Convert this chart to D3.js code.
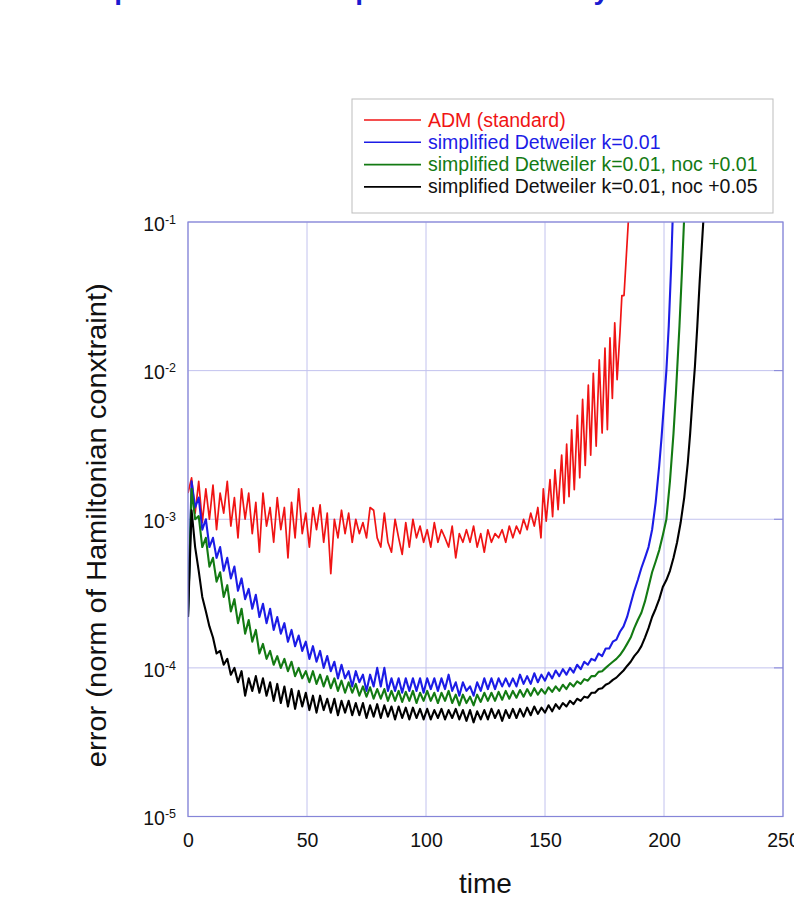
<!DOCTYPE html>
<html>
<head>
<meta charset="utf-8">
<script src="https://cdn.jsdelivr.net/npm/d3@7"></script>
<style>
  body { margin: 0; background: #fff; overflow: hidden; }
  text { font-family: "Liberation Sans", Arial, Helvetica, sans-serif; }
</style>
</head>
<body>
<div id="chart"></div>
<script>
// series names (legend order)
var seriesNames = [
    "ADM (standard)",
    "simplified Detweiler k=0.01",
    "simplified Detweiler k=0.01, noc +0.01",
    "simplified Detweiler k=0.01, noc +0.05"
];
var seriesColors = ["#f01414", "#1c1ce6", "#137a13", "#000000"];

// axis ticks
var xTicks = [0, 50, 100, 150, 200, 250];
var yTicks = [1e-5, 1e-4, 1e-3, 1e-2, 1e-1];

// time samples of the noisy part (shared by all four runs)
var timeNoisy = [
    0, 1.5, 3, 4.5, 6, 7.5, 9, 10.5, 12, 13.5,
    15, 16.5, 18, 19.5, 21, 22.5, 24, 25.5, 27, 28.5,
    30, 31.5, 33, 34.5, 36, 37.5, 39, 40.5, 42, 43.5,
    45, 46.5, 48, 49.5, 51, 52.5, 54, 55.5, 57, 58.5,
    60, 61.5, 63, 64.5, 66, 67.5, 69, 70.5, 72, 73.5,
    75, 76.5, 78, 79.5, 81, 82.5, 84, 85.5, 87, 88.5,
    90, 91.5, 93, 94.5, 96, 97.5, 99, 100.5, 102, 103.5,
    105, 106.5, 108, 109.5, 111, 112.5, 114, 115.5, 117, 118.5,
    120, 121.5, 123, 124.5, 126, 127.5, 129, 130.5, 132, 133.5,
    135, 136.5, 138, 139.5, 141, 142.5, 144, 145.5, 147
];

// ADM (standard)
var admNoisy = [
    1.5e-3, 1.9e-3, 1.1e-3, 1.8e-3, 9.5e-4, 1.6e-3, 1.0e-3, 1.7e-3, 8.5e-4, 1.5e-3,
    1.1e-3, 1.8e-3, 9.0e-4, 1.4e-3, 7.5e-4, 1.6e-3, 1.0e-3, 1.5e-3, 8.0e-4, 1.3e-3,
    6.0e-4, 1.5e-3, 9.0e-4, 1.2e-3, 7.0e-4, 1.4e-3, 8.5e-4, 1.2e-3, 5.5e-4, 1.3e-3,
    7.5e-4, 1.6e-3, 8.0e-4, 1.1e-3, 6.5e-4, 1.2e-3, 8.5e-4, 1.25e-3, 7.0e-4, 1.1e-3,
    4.3e-4, 1.0e-3, 7.5e-4, 1.15e-3, 8.0e-4, 1.1e-3, 7.0e-4, 1.0e-3, 8.0e-4, 9.5e-4,
    7.5e-4, 1.2e-3, 1.15e-3, 7.5e-4, 6.5e-4, 1.1e-3, 7.0e-4, 6.0e-4, 1.0e-3, 7.5e-4,
    5.8e-4, 9.5e-4, 6.5e-4, 1.0e-3, 7.5e-4, 9.0e-4, 7.0e-4, 8.5e-4, 6.5e-4, 9.5e-4,
    7.0e-4, 8.5e-4, 7.5e-4, 6.5e-4, 9.0e-4, 5.5e-4, 8.0e-4, 7.0e-4, 8.5e-4, 7.0e-4,
    9.0e-4, 6.5e-4, 8.0e-4, 6.0e-4, 8.5e-4, 7.0e-4, 8.0e-4, 7.5e-4, 8.5e-4, 7.0e-4,
    9.0e-4, 7.5e-4, 9.0e-4, 8.0e-4, 1.0e-3, 8.5e-4, 1.1e-3, 9.0e-4, 1.2e-3
];
var admTail = [
    [148.3, 7.5e-4], [149.3, 1.6e-3], [150.5, 9.7e-4], [152.1, 1.85e-3], [153.2, 1.04e-3],
    [154.2, 2.15e-3], [155.5, 1.16e-3], [157.0, 2.7e-3], [158.0, 1.28e-3], [159.1, 3.2e-3],
    [160.1, 1.42e-3], [161.2, 4.0e-3], [162.3, 1.58e-3], [163.6, 5.0e-3], [164.6, 1.9e-3],
    [165.8, 6.4e-3], [166.9, 2.3e-3], [168.2, 8.0e-3], [169.2, 2.7e-3], [170.3, 9.6e-3],
    [171.5, 3.1e-3], [172.8, 1.18e-2], [174.0, 3.8e-3], [175.2, 1.42e-2], [176.2, 4.0e-3],
    [177.3, 1.66e-2], [178.3, 6.5e-3], [179.3, 2.1e-2], [180.3, 8.7e-3], [181.5, 1.8e-2],
    [182.3, 3.2e-2], [183.2, 3.2e-2], [185.0, 1.0e-1], [185.4, 1.3e-1]
];

// simplified Detweiler k=0.01
var detNoisy = [
    2.2e-4, 1.8e-3, 1.2e-3, 1.4e-3, 8.5e-4, 1.0e-3, 6.5e-4, 7.5e-4, 5.5e-4, 6.5e-4,
    4.5e-4, 5.5e-4, 4.0e-4, 4.8e-4, 3.3e-4, 4.0e-4, 2.9e-4, 3.4e-4, 2.5e-4, 3.1e-4,
    2.2e-4, 2.7e-4, 2.0e-4, 2.5e-4, 1.8e-4, 2.2e-4, 1.7e-4, 2.0e-4, 1.5e-4, 1.8e-4,
    1.4e-4, 1.65e-4, 1.3e-4, 1.5e-4, 1.15e-4, 1.4e-4, 1.1e-4, 1.3e-4, 1.0e-4, 1.2e-4,
    9.5e-5, 1.1e-4, 8.5e-5, 1.05e-4, 8.5e-5, 9.5e-5, 7.5e-5, 9.5e-5, 8.0e-5, 9.0e-5,
    7.0e-5, 9.0e-5, 7.5e-5, 1.0e-4, 7.5e-5, 1.0e-4, 7.0e-5, 8.5e-5, 7.0e-5, 8.5e-5,
    6.8e-5, 8.5e-5, 7.0e-5, 8.5e-5, 7.0e-5, 8.5e-5, 6.8e-5, 8.5e-5, 7.2e-5, 8.5e-5,
    7.0e-5, 8.5e-5, 7.2e-5, 9.0e-5, 7.0e-5, 8.0e-5, 6.5e-5, 8.0e-5, 7.0e-5, 7.5e-5,
    6.5e-5, 8.0e-5, 7.0e-5, 8.5e-5, 7.2e-5, 8.5e-5, 7.2e-5, 8.5e-5, 7.5e-5, 8.5e-5,
    7.5e-5, 8.5e-5, 7.5e-5, 9.0e-5, 7.8e-5, 8.8e-5, 7.8e-5, 9.2e-5, 8.0e-5
];
var detTail = [
    [148.5, 9.0e-5], [150, 8.2e-5], [151.5, 9.3e-5], [153, 8.5e-5], [154.5, 9.6e-5],
    [156, 8.8e-5], [157.5, 9.8e-5], [159, 9.0e-5], [160.5, 1.0e-4], [162, 9.3e-5],
    [163.5, 1.05e-4], [165, 9.8e-5], [166.5, 1.1e-4], [168, 1.05e-4], [169.5, 1.15e-4],
    [171, 1.12e-4], [172.5, 1.25e-4], [174, 1.2e-4], [175.5, 1.35e-4], [177, 1.35e-4],
    [178.5, 1.5e-4], [180, 1.55e-4], [181.5, 1.75e-4], [183, 1.9e-4], [184.5, 2.2e-4],
    [186, 2.7e-4], [187.5, 3.3e-4], [189, 3.9e-4], [190.5, 4.7e-4], [192, 5.5e-4],
    [193.5, 6.5e-4], [195, 8.5e-4], [196.5, 1.3e-3], [198, 2.3e-3], [199, 3.6e-3],
    [200, 6.0e-3], [201, 1.0e-2], [202, 2.0e-2], [203, 5.0e-2], [203.6, 1.0e-1], [204, 1.3e-1]
];

// simplified Detweiler k=0.01, noc +0.01
var noc1Noisy = [
    2.2e-4, 1.6e-3, 1.0e-3, 1.05e-3, 6.5e-4, 7.5e-4, 4.8e-4, 5.5e-4, 3.8e-4, 4.4e-4,
    3.0e-4, 3.6e-4, 2.4e-4, 2.9e-4, 2.0e-4, 2.5e-4, 1.7e-4, 2.1e-4, 1.5e-4, 1.8e-4,
    1.25e-4, 1.45e-4, 1.15e-4, 1.3e-4, 1.05e-4, 1.2e-4, 1.0e-4, 1.15e-4, 9.5e-5, 1.1e-4,
    8.8e-5, 1.0e-4, 8.5e-5, 9.5e-5, 8.0e-5, 9.5e-5, 7.8e-5, 9.0e-5, 7.5e-5, 8.8e-5,
    7.3e-5, 8.5e-5, 7.0e-5, 8.2e-5, 6.8e-5, 8.0e-5, 6.8e-5, 7.8e-5, 6.5e-5, 7.5e-5,
    6.4e-5, 7.4e-5, 6.2e-5, 7.2e-5, 6.2e-5, 7.2e-5, 6.0e-5, 7.0e-5, 6.0e-5, 7.0e-5,
    5.9e-5, 6.9e-5, 6.0e-5, 7.0e-5, 5.8e-5, 6.8e-5, 6.0e-5, 7.0e-5, 6.0e-5, 6.8e-5,
    5.8e-5, 6.8e-5, 6.0e-5, 7.0e-5, 5.8e-5, 6.6e-5, 5.6e-5, 6.6e-5, 5.8e-5, 6.4e-5,
    5.6e-5, 6.6e-5, 5.9e-5, 6.8e-5, 6.0e-5, 6.8e-5, 6.0e-5, 6.9e-5, 6.1e-5, 7.0e-5,
    6.2e-5, 7.0e-5, 6.3e-5, 7.1e-5, 6.4e-5, 7.2e-5, 6.5e-5, 7.3e-5, 6.6e-5
];
var noc1Tail = [
    [148.5, 7.2e-5], [150, 6.7e-5], [151.5, 7.4e-5], [153, 6.9e-5], [154.5, 7.5e-5],
    [156, 7.0e-5], [157.5, 7.7e-5], [159, 7.2e-5], [160.5, 7.9e-5], [162, 7.5e-5],
    [163.5, 8.1e-5], [165, 7.8e-5], [166.5, 8.4e-5], [168, 8.2e-5], [169.5, 8.8e-5],
    [171, 8.8e-5], [172.5, 9.4e-5], [174, 9.5e-5], [175.5, 1.0e-4], [177, 1.05e-4],
    [178.5, 1.1e-4], [180, 1.15e-4], [181.5, 1.22e-4], [183, 1.32e-4], [184.5, 1.45e-4],
    [186, 1.6e-4], [187.5, 1.85e-4], [189, 2.1e-4], [190.5, 2.35e-4], [192, 2.8e-4],
    [193.5, 3.5e-4], [195, 4.4e-4], [196.5, 5.2e-4], [198, 6.2e-4], [199.5, 7.8e-4],
    [201, 1.0e-3], [202.5, 1.8e-3], [204, 3.8e-3], [205, 7.0e-3], [205.6, 1.07e-2],
    [206.5, 2.0e-2], [207.5, 4.5e-2], [208.4, 1.0e-1], [208.8, 1.3e-1]
];

// simplified Detweiler k=0.01, noc +0.05
var noc5Noisy = [
    2.2e-4, 1.15e-3, 6.5e-4, 4.5e-4, 3.0e-4, 2.4e-4, 1.9e-4, 1.6e-4, 1.25e-4, 1.3e-4,
    1.05e-4, 1.15e-4, 9.0e-5, 1.0e-4, 8.0e-5, 9.5e-5, 6.5e-5, 8.5e-5, 7.0e-5, 8.8e-5,
    6.8e-5, 8.5e-5, 6.5e-5, 8.0e-5, 6.0e-5, 7.8e-5, 5.8e-5, 7.5e-5, 5.5e-5, 7.2e-5,
    5.3e-5, 7.0e-5, 5.5e-5, 6.8e-5, 5.2e-5, 6.5e-5, 5.0e-5, 6.5e-5, 5.2e-5, 6.2e-5,
    5.0e-5, 6.2e-5, 4.8e-5, 6.0e-5, 5.0e-5, 6.0e-5, 4.8e-5, 5.8e-5, 4.8e-5, 5.8e-5,
    4.6e-5, 5.6e-5, 4.7e-5, 5.7e-5, 4.6e-5, 5.6e-5, 4.7e-5, 5.5e-5, 4.5e-5, 5.5e-5,
    4.6e-5, 5.4e-5, 4.5e-5, 5.4e-5, 4.6e-5, 5.3e-5, 4.5e-5, 5.3e-5, 4.5e-5, 5.2e-5,
    4.6e-5, 5.3e-5, 4.5e-5, 5.2e-5, 4.6e-5, 5.3e-5, 4.5e-5, 5.2e-5, 4.4e-5, 5.2e-5,
    4.3e-5, 5.1e-5, 4.5e-5, 5.2e-5, 4.5e-5, 5.3e-5, 4.6e-5, 5.2e-5, 4.4e-5, 5.2e-5,
    4.6e-5, 5.3e-5, 4.6e-5, 5.3e-5, 4.7e-5, 5.4e-5, 4.8e-5, 5.5e-5, 4.9e-5
];
var noc5Tail = [
    [148.5, 5.4e-5], [150, 5.0e-5], [151.5, 5.6e-5], [153, 5.1e-5], [154.5, 5.7e-5],
    [156, 5.3e-5], [157.5, 5.8e-5], [159, 5.5e-5], [160.5, 6.0e-5], [162, 5.7e-5],
    [163.5, 6.2e-5], [165, 6.0e-5], [166.5, 6.4e-5], [168, 6.3e-5], [169.5, 6.8e-5],
    [171, 6.8e-5], [172.5, 7.2e-5], [174, 7.3e-5], [175.5, 7.7e-5], [177, 7.9e-5],
    [178.5, 8.3e-5], [180, 8.6e-5], [181.5, 9.1e-5], [183, 9.6e-5], [184.5, 1.03e-4],
    [186, 1.1e-4], [187.5, 1.2e-4], [189, 1.28e-4], [190.5, 1.4e-4], [192, 1.6e-4],
    [193.5, 1.85e-4], [195, 2.2e-4], [196.5, 2.5e-4], [198, 2.9e-4], [199.5, 3.5e-4],
    [201, 3.9e-4], [202.5, 4.5e-4], [204, 5.5e-4], [205.5, 7.0e-4], [207, 9.5e-4],
    [208.5, 1.4e-3], [210, 2.4e-3], [211, 3.8e-3], [212, 6.5e-3], [213, 1.07e-2],
    [214, 2.0e-2], [215, 4.0e-2], [216.5, 1.0e-1], [217, 1.3e-1]
];

var titleText = "Comparison of the simplified Detweiler system with ADM (gauge wave)";

// layout
var margin = {top: 222, left: 188},
    width = 595,
    height = 594.5;

var svg = d3.select('#chart')
    .append('svg')
        .attr('width', 794)
        .attr('height', 915);

// title, mostly cut off at the top of the page
svg.append('text')
    .attr('x', 52)
    .attr('y', -1.5)
    .style('font-size', '28px')
    .style('font-weight', 'bold')
    .attr('fill', '#1a1ad0')
    .text(titleText);

var g = svg.append('g')
    .attr('transform', 'translate(' + margin.left + ',' + margin.top + ')');

var x = d3.scaleLinear().domain([0, 250]).range([0, width]);
var y = d3.scaleLog().domain([1e-5, 1e-1]).range([height, 0]);

// grid
g.append('g').selectAll('line.vgrid')
    .data(xTicks)
    .enter().append('line')
        .attr('x1', function(d) { return x(d); })
        .attr('x2', function(d) { return x(d); })
        .attr('y1', 0).attr('y2', height)
        .attr('stroke', '#c2c2ee').attr('stroke-width', 1);
g.append('g').selectAll('line.hgrid')
    .data(yTicks)
    .enter().append('line')
        .attr('y1', function(d) { return y(d); })
        .attr('y2', function(d) { return y(d); })
        .attr('x1', 0).attr('x2', width)
        .attr('stroke', '#c2c2ee').attr('stroke-width', 1);

// X axis
var xAxis = g.append('g')
    .attr('transform', 'translate(0,' + height + ')')
    .call(d3.axisBottom(x).tickValues(xTicks).tickSize(0).tickPadding(17));
xAxis.select('.domain').remove();
xAxis.selectAll('text').style('font-size', '19.5px').attr('fill', '#111');

// Y axis with 10^n labels
var yAxis = g.append('g')
    .call(d3.axisLeft(y).tickValues(yTicks).tickSize(0).tickPadding(12).tickFormat(''));
yAxis.select('.domain').remove();
yAxis.selectAll('.tick text')
    .attr('dy', '0.42em')
    .style('font-size', '19.5px')
    .attr('fill', '#111')
    .each(function(d) {
        var t = d3.select(this);
        t.append('tspan').text('10');
        t.append('tspan')
            .attr('dy', '-0.55em')
            .style('font-size', '12.5px')
            .text(String(Math.round(Math.log10(d))));
    });

// clip + lines
svg.append('defs').append('clipPath').attr('id', 'plotclip')
    .append('rect').attr('width', width).attr('height', height);

var series = [
    timeNoisy.map(function(t, i) { return [t, admNoisy[i]]; }).concat(admTail),
    timeNoisy.map(function(t, i) { return [t, detNoisy[i]]; }).concat(detTail),
    timeNoisy.map(function(t, i) { return [t, noc1Noisy[i]]; }).concat(noc1Tail),
    timeNoisy.map(function(t, i) { return [t, noc5Noisy[i]]; }).concat(noc5Tail)
];

var line = d3.line()
    .x(function(d) { return x(d[0]); })
    .y(function(d) { return y(d[1]); });

var lines = g.append('g').attr('clip-path', 'url(#plotclip)');
series.forEach(function(s, i) {
    lines.append('path')
        .datum(s)
        .attr('fill', 'none')
        .attr('stroke', seriesColors[i])
        .attr('stroke-width', i === 0 ? 1.7 : 2.1)
        .attr('stroke-linejoin', 'round')
        .attr('d', line);
});

// frame
g.append('rect')
    .attr('width', width).attr('height', height)
    .attr('fill', 'none')
    .attr('stroke', '#8585d8').attr('stroke-width', 1.2);

// inner tick marks on the frame
g.append('g').selectAll('line')
    .data(yTicks.slice(1, -1))
    .enter().append('line')
        .attr('x1', width - 9).attr('x2', width)
        .attr('y1', function(d) { return y(d); })
        .attr('y2', function(d) { return y(d); })
        .attr('stroke', '#8585d8');

// axis titles
svg.append('text')
    .attr('x', margin.left + x(125))
    .attr('y', 893)
    .attr('text-anchor', 'middle')
    .style('font-size', '28px')
    .attr('fill', '#111')
    .text('time');

svg.append('text')
    .attr('transform', 'translate(106,' + (margin.top + height / 2 + 6) + ') rotate(-90)')
    .attr('text-anchor', 'middle')
    .attr('textLength', 484)
    .attr('lengthAdjust', 'spacingAndGlyphs')
    .style('font-size', '27px')
    .attr('fill', '#111')
    .text('error (norm of Hamiltonian conxtraint)');

// legend
var legend = svg.append('g');
legend.append('rect')
    .attr('x', 352).attr('y', 99)
    .attr('width', 421).attr('height', 114)
    .attr('fill', '#fff')
    .attr('stroke', '#bdbdbd').attr('stroke-width', 1);

seriesNames.forEach(function(name, i) {
    var ly = 120 + i * 22.3;
    legend.append('line')
        .attr('x1', 364).attr('x2', 421)
        .attr('y1', ly).attr('y2', ly)
        .attr('stroke', seriesColors[i]).attr('stroke-width', 1.6);
    legend.append('text')
        .attr('x', 428).attr('y', ly + 6.5)
        .style('font-size', '19.5px')
        .attr('fill', seriesColors[i] === '#000000' ? '#111' : seriesColors[i])
        .text(name);
});
</script>
</body>
</html>
